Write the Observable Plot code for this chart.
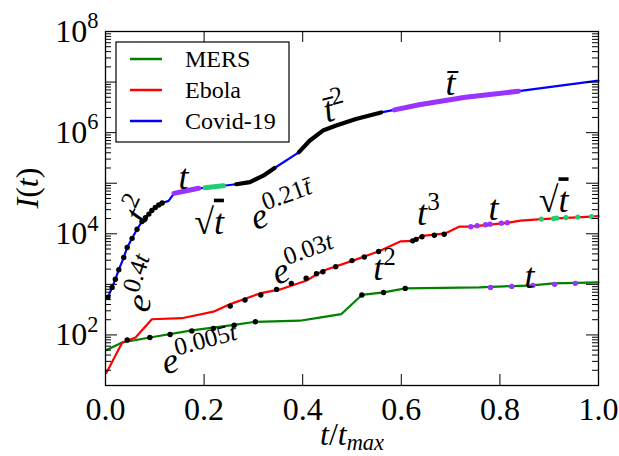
<!DOCTYPE html>
<html><head><meta charset="utf-8">
<script src="https://cdn.jsdelivr.net/npm/d3@7"></script>
<script src="https://cdn.jsdelivr.net/npm/@observablehq/plot@0.6"></script>
<style>body{margin:0;background:#fff}</style>
</head><body><div id="chart"></div>
<script>
// ---------- data (t / t_max, I(t)) ----------
const covidT = [0.005,0.0135,0.02,0.027,0.037,0.044,0.054,0.064,0.074,0.088,0.101,0.115,0.128,0.139,0.164,0.189,0.202,0.239,0.265,0.293,0.32,0.343,0.392,0.414,0.441,0.468,0.508,0.559,0.586,0.636,0.73,0.838,1.0];
const covidI = [560,870,1260,1950,3390,5370,8130,12300,17400,24500,33100,40700,44700,63100,70800,79400,81300,89100,95500,105000,141000,200000,407000,692000,1100000,1380000,1860000,2510000,2820000,3550000,5010000,6610000,10700000];

const ebolaT = [0.002,0.034,0.061,0.094,0.155,0.219,0.253,0.313,0.354,0.407,0.441,0.502,0.556,0.599,0.623,0.643,0.69,0.717,0.741,0.818,0.842,0.885,0.986,1.0];
const ebolaI = [17.8,70.8,89.1,204,214,288,407,661,794,1175,1862,2951,4571,7079,7244,9120,10230,13800,13800,16600,18200,19500,21900,22400];

const mersT = [0.002,0.034,0.09,0.175,0.261,0.304,0.394,0.434,0.478,0.52,0.564,0.608,0.758,0.865,0.909,1.0];
const mersI = [50.1,70.8,89.1,123,158,182,191,219,257,617,692,832,871,955,1047,1096];

// fitted segments drawn thick on Covid-19
const covidFitPurpleAT = [0.139,0.164,0.189];           const covidFitPurpleAI = [63100,70800,79400];
const covidFitGreenT  = [0.202,0.22,0.239];             const covidFitGreenI  = [81300,85000,89100];
const covidFitBlackAT = [0.265,0.293,0.32,0.343];       const covidFitBlackAI = [95500,105000,141000,200000];
const covidFitBlackBT = [0.392,0.414,0.441,0.468,0.508,0.559]; const covidFitBlackBI = [407000,692000,1100000,1380000,1860000,2510000];
const covidFitPurpleBT = [0.586,0.636,0.73,0.838];      const covidFitPurpleBI = [2820000,3550000,5010000,6610000];

// fitted points drawn as dots
const covidDotT = [0.005,0.0135,0.02,0.027,0.037,0.044,0.054,0.064,0.074,0.081,0.088,0.094,0.101,0.108,0.115];
const covidDotI = [560,870,1260,1950,3390,5370,8130,12300,17400,20900,24500,28800,33100,37200,40700];
const ebolaExpDotT = [0.253,0.283,0.315,0.347,0.377,0.407,0.428,0.441,0.467,0.50,0.525,0.554];
const ebolaExpDotI = [372,490,617,794,1047,1318,1622,1778,2239,2951,3467,4467];
const ebolaCubeDotT = [0.623,0.63,0.642,0.667,0.687];
const ebolaCubeDotI = [7244,7762,8710,9333,9772];
const ebolaLinDotT = [0.741,0.754,0.771,0.78,0.803,0.815];
const ebolaLinDotI = [13800,14450,15140,15490,16220,16600];
const ebolaSqrtDotT = [0.884,0.909,0.915,0.934,0.958,0.986];
const ebolaSqrtDotI = [19500,19950,20420,20890,21380,21880];
const mersExpDotT = [0.044,0.09,0.131,0.175,0.219,0.261,0.304];
const mersExpDotI = [79.4,89.1,102,120,135,155,182];
const mersSqDotT = [0.52,0.564,0.608];
const mersSqDotI = [617,692,832];
const mersLinDotT = [0.781,0.824,0.867,0.911,0.953];
const mersLinDotI = [871,912,955,1000,1047];

// annotations (text, position in data coordinates, rotation)
const annText = ["e^{0.4t}","t^{2}","t","\\sqrt{t}","e^{0.21\\bar{t}}","\\bar{t}^{2}","\\bar{t}","e^{0.03t}","t^{3}","t","\\sqrt{t}","t^{2}","t","e^{0.005t}"];
const annT    = [0.08,0.068,0.158,0.21,0.36,0.465,0.70,0.404,0.655,0.787,0.909,0.566,0.86,0.193];
const annI    = [1000,30000,129000,17000,32400,3020000,9300000,2690,25100,31600,45000,2040,1410,44];
const annRot  = [-72,-65,0,0,-20,-15,0,-20,0,0,0,0,0,-15];

const xTicks = [0,0.2,0.4,0.6,0.8,1.0];
const yMajor = [1e1,1e2,1e3,1e4,1e5,1e6,1e7,1e8];
const yLabelTicks = [1e2,1e4,1e6,1e8];
const yMinor = d3.range(1,8).flatMap(e => d3.range(2,10).map(s => s*Math.pow(10,e)));

const legendNames = ["MERS","Ebola","Covid-19"];
const legendColors = ["green","red","blue"];

// ---------- build ----------
const W = 619, H = 456, mT = 31, mB = 71, mL = 105, mR = 21;
const pw = W - mL - mR, ph = H - mT - mB;
const tab = (T, V) => T.map((t, i) => ({t, I: V[i]}));
const PURPLE = "#9933ff", FITGREEN = "#22cc70";

const line = (T, V, stroke, w) => Plot.line(tab(T, V), {x: "t", y: "I", stroke, strokeWidth: w, curve: "linear"});
const dots = (T, V, fill) => Plot.dot(tab(T, V), {x: "t", y: "I", fill, r: 2.7, stroke: "none"});

const plot = Plot.plot({
  width: W, height: H, marginTop: mT, marginBottom: mB, marginLeft: mL, marginRight: mR,
  style: {fontFamily: "'Liberation Serif', serif", background: "#fff", overflow: "visible"},
  x: {domain: [0, 1], axis: null},
  y: {type: "log", domain: [10, 1e8], axis: null},
  marks: [
    line(mersT, mersI, "green", 2.2),
    line(ebolaT, ebolaI, "red", 2.2),
    line(covidT, covidI, "blue", 2.2),
    line(covidFitPurpleAT, covidFitPurpleAI, PURPLE, 5),
    line(covidFitGreenT, covidFitGreenI, FITGREEN, 5),
    line(covidFitBlackAT, covidFitBlackAI, "black", 4.2),
    line(covidFitBlackBT, covidFitBlackBI, "black", 4.2),
    line(covidFitPurpleBT, covidFitPurpleBI, PURPLE, 5),
    dots(covidDotT, covidDotI, "black"),
    dots(ebolaExpDotT, ebolaExpDotI, "black"),
    dots(ebolaCubeDotT, ebolaCubeDotI, "black"),
    dots(ebolaLinDotT, ebolaLinDotI, PURPLE),
    dots(ebolaSqrtDotT, ebolaSqrtDotI, FITGREEN),
    dots(mersExpDotT, mersExpDotI, "black"),
    dots(mersSqDotT, mersSqDotI, "black"),
    dots(mersLinDotT, mersLinDotI, PURPLE),
    // inward ticks on all four sides
    Plot.tickX(xTicks, {x: d => d, insetTop: ph - 11, stroke: "black"}),
    Plot.tickX(xTicks, {x: d => d, insetBottom: ph - 11, stroke: "black"}),
    Plot.tickY(yMajor, {y: d => d, insetRight: pw - 12, stroke: "black"}),
    Plot.tickY(yMajor, {y: d => d, insetLeft: pw - 12, stroke: "black"}),
    Plot.tickY(yMinor, {y: d => d, insetRight: pw - 6, stroke: "black"}),
    Plot.tickY(yMinor, {y: d => d, insetLeft: pw - 6, stroke: "black"}),
    Plot.frame({stroke: "black", strokeWidth: 1.3}),
    // tick labels
    Plot.text(xTicks, {x: d => d, text: d => d.toFixed(1), frameAnchor: "bottom", lineAnchor: "top", dy: 12, fontSize: 32}),
    Plot.text(yLabelTicks, {y: d => d, text: d => "$10^{" + Math.round(Math.log10(d)) + "}", frameAnchor: "left", textAnchor: "end", dx: -7, fontSize: 32}),
    // axis labels
    Plot.text(["$t/t_{max}"], {text: d => d, frameAnchor: "bottom", lineAnchor: "top", dy: 37, fontSize: 32}),
    Plot.text(["$I(t)"], {text: d => d, frameAnchor: "left", rotate: -90, dx: -78, fontSize: 32}),
    // annotations
    Plot.text(annText.map((s, i) => ({s: "$" + s, t: annT[i], I: annI[i], r: annRot[i]})),
      {x: "t", y: "I", text: "s", rotate: "r", fontSize: 36})
  ]
});

// ---------- math-like text rendering ----------
const NS = "http://www.w3.org/2000/svg";
function mathify(el) {
  const src = el.textContent.slice(1);
  const size = parseFloat(getComputedStyle(el).fontSize) || 32;
  while (el.firstChild) el.removeChild(el.firstChild);
  let cur = 0;
  function emit(str, level, overline) {
    const fs = level === 0 ? size : size * 0.7;
    const off = level === 1 ? -0.42 * size : level === -1 ? 0.15 * size : 0;
    const runs = str.match(/[A-Za-z][\u0304]?|[^A-Za-z]+/g) || [];
    for (const r of runs) {
      const ts = document.createElementNS(NS, "tspan");
      ts.textContent = r;
      ts.setAttribute("font-size", fs);
      ts.setAttribute("font-style", /[A-Za-z]/.test(r) ? "italic" : "normal");
      if (off !== cur) { ts.setAttribute("dy", off - cur); cur = off; }
      if (overline) ts.setAttribute("text-decoration", "overline");
      el.appendChild(ts);
    }
  }
  function group(s, i) {
    if (s[i] === "{") {
      let d = 1, j = i + 1;
      while (d > 0 && j < s.length) { if (s[j] === "{") d++; else if (s[j] === "}") d--; j++; }
      return {content: s.slice(i + 1, j - 1), end: j};
    }
    return {content: s[i], end: i + 1};
  }
  function parse(s, level) {
    let i = 0, buf = "";
    const flush = () => { if (buf) { emit(buf, level, false); buf = ""; } };
    while (i < s.length) {
      const c = s[i];
      if (c === "^" || c === "_") {
        flush(); const g = group(s, i + 1); parse(g.content, c === "^" ? 1 : -1); i = g.end;
      } else if (s.startsWith("\\bar", i)) {
        flush(); const g = group(s, i + 4); emit(g.content + "\u0304", level, false); i = g.end;
      } else if (s.startsWith("\\sqrt", i)) {
        flush(); emit("\u221A", level, false); const g = group(s, i + 5); emit(g.content, level, true); i = g.end;
      } else { buf += c; i++; }
    }
    flush();
  }
  parse(src, 0);
}
document.getElementById("chart").appendChild(plot);
plot.querySelectorAll("text").forEach(el => { if (el.textContent.startsWith("$")) mathify(el); });

// ---------- legend (inside the frame, upper left) ----------
const svg = d3.select(plot);
const lg = svg.append("g").attr("font-family", "'Liberation Serif', serif").attr("text-anchor", "start");
lg.append("rect").attr("x", 116).attr("y", 42).attr("width", 173).attr("height", 100)
  .attr("fill", "#fff").attr("stroke", "black").attr("stroke-width", 1.2);
legendNames.forEach((name, i) => {
  const y = 59 + i * 31;
  lg.append("line").attr("x1", 130).attr("x2", 162).attr("y1", y).attr("y2", y)
    .attr("stroke", legendColors[i]).attr("stroke-width", 2.5);
  lg.append("text").attr("x", 185).attr("y", y + 8).attr("font-size", 24).attr("fill", "black")
    .attr("text-anchor", "start").text(name);
});
</script></body></html>
